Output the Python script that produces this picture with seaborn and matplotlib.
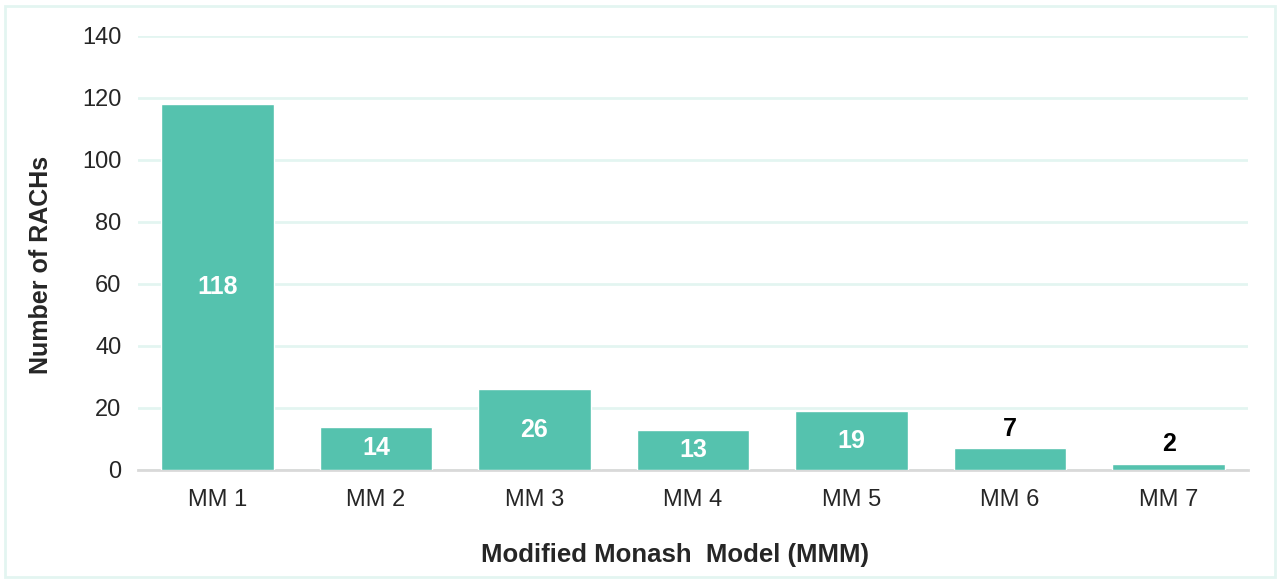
import matplotlib
matplotlib.use('Agg')
import pandas as pd
import matplotlib.pyplot as plt
import seaborn as sns
from matplotlib.patches import Rectangle

categories = ['MM 1', 'MM 2', 'MM 3', 'MM 4', 'MM 5', 'MM 6', 'MM 7']
counts = [118, 14, 26, 13, 19, 7, 2]

df = pd.DataFrame({'model': categories, 'n': counts})

sns.set_style('white')
plt.rcParams['font.family'] = ['Liberation Sans', 'DejaVu Sans']

fig = plt.figure(figsize=(12.77, 5.79), dpi=100)
ax = fig.add_axes([138/1277, 1 - 470/579, 1110/1277, (470 - 36)/579])

sns.barplot(data=df, x='model', y='n', color='#55C2AE', saturation=1, width=0.71, ax=ax, zorder=3)

ax.set_ylim(0, 140)
ax.set_xlim(-0.5, 6.5)
ax.set_yticks(range(0, 141, 20))
ax.yaxis.grid(True, color='#E3F5F1', linewidth=2, zorder=0)
ax.set_axisbelow(True)
for s in ['top', 'right', 'left']:
    ax.spines[s].set_visible(False)
ax.spines['bottom'].set_color('#D9D9D9')
ax.spines['bottom'].set_linewidth(2)
ax.tick_params(axis='both', length=0, labelsize=17, colors='#262626')
ax.tick_params(axis='y', pad=12)
ax.tick_params(axis='x', pad=14)

for i, v in enumerate(counts):
    if v >= 10:
        ax.text(i, v / 2, str(v), ha='center', va='center', color='white',
                fontsize=18, fontweight='bold')
    else:
        ax.text(i, v + 2.5, str(v), ha='center', va='bottom', color='black',
                fontsize=18, fontweight='bold')

ax.set_xlabel('Modified Monash  Model (MMM)', fontsize=18.5, fontweight='bold')
ax.set_ylabel('Number of RACHs', fontsize=18, fontweight='bold')
ax.xaxis.set_label_coords(0.484, -0.168)
ax.yaxis.set_label_coords(-0.0766, 0.472)

fig.patches.append(Rectangle((5/1277, 1 - 577/579), 1270/1277, 571/579,
                             transform=fig.transFigure, fill=False,
                             edgecolor='#E3F5F1', linewidth=2))

fig.savefig('out.png', dpi=100)
